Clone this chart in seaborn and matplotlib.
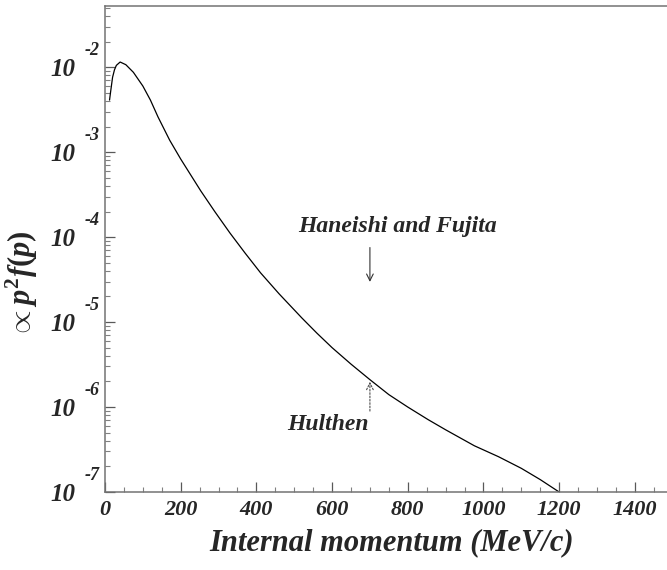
import numpy as np
import pandas as pd
import matplotlib
matplotlib.use("Agg")
import matplotlib.pyplot as plt
import matplotlib.transforms as mtransforms
from matplotlib.ticker import FixedLocator, LogLocator, NullFormatter
import seaborn as sns

# Deuteron momentum distribution (Hulthen), p^2 f(p) in arbitrary units
momentum = [12, 15, 20, 25, 30, 40, 55, 75, 100, 120, 140, 171, 200, 253,
            290, 330, 370, 411, 460, 520, 560, 600, 650, 700, 750, 800, 854,
            900, 976, 1040, 1100, 1150, 1200]
density = [4.1e-3, 5.2e-3, 7.6e-3, 9.3e-3, 1.05e-2, 1.15e-2, 1.07e-2, 8.7e-3,
           6.0e-3, 4.1e-3, 2.6e-3, 1.38e-3, 8.3e-4, 3.5e-4, 2.0e-4, 1.12e-4,
           6.5e-5, 3.8e-5, 2.15e-5, 1.12e-5, 7.4e-6, 5.0e-6, 3.2e-6, 2.1e-6,
           1.4e-6, 1.0e-6, 7.1e-7, 5.4e-7, 3.5e-7, 2.6e-7, 1.9e-7, 1.4e-7,
           1.0e-7]

x_ticks = [0, 200, 400, 600, 800, 1000, 1200, 1400]
y_decades = [-7, -6, -5, -4, -3, -2]

arrow_p = 700
haneishi_arrow = (10 ** -4.09, 10 ** -4.56)
hulthen_arrow = (10 ** -6.08, 10 ** -5.67)

sns.set_theme(style="white")
plt.rcParams["font.family"] = ["Liberation Serif", "DejaVu Serif"]
plt.rcParams["mathtext.fontset"] = "custom"
plt.rcParams["mathtext.it"] = "Liberation Serif:bold:italic"
plt.rcParams["mathtext.rm"] = "Liberation Serif:bold"
plt.rcParams["mathtext.bf"] = "Liberation Serif:bold"

fig = plt.figure(figsize=(6.67, 5.70), dpi=100)
ax = fig.add_axes([105 / 667, 1 - 492 / 570, 1 - 105 / 667, (492 - 6) / 570])

df = pd.DataFrame({"p": momentum, "f": density})
sns.lineplot(data=df, x="p", y="f", ax=ax, color="black", lw=0.9)

ax.set_yscale("log")
ax.set_xlim(0, 1485)
ax.set_ylim(1e-7, 10 ** -1.28)

# spines
for side in ["left", "bottom", "top"]:
    ax.spines[side].set_color("0.45")
    ax.spines[side].set_linewidth(1.1)
ax.spines["right"].set_visible(False)

# ticks
ax.xaxis.set_major_locator(FixedLocator(x_ticks))
ax.xaxis.set_minor_locator(FixedLocator(np.arange(50, 1500, 50)))
ax.yaxis.set_major_locator(FixedLocator([10.0 ** d for d in y_decades]))
ax.yaxis.set_minor_locator(LogLocator(base=10, subs=np.arange(2, 10)))
ax.yaxis.set_minor_formatter(NullFormatter())
ax.tick_params(axis="both", which="both", bottom=True, left=True,
               top=False, right=False)
ax.tick_params(axis="both", which="major", direction="in", length=7,
               width=0.9, color="0.35")
ax.tick_params(axis="both", which="minor", direction="in", length=3.5,
               width=0.8, color="0.5")
ax.tick_params(axis="x", which="major", pad=6)
ax.tick_params(axis="y", which="major", pad=21)

tick_font = dict(family="Liberation Serif", weight="bold", style="italic")
ax.set_xticklabels([str(v) for v in x_ticks], fontsize=16, **tick_font)
ax.set_yticklabels(["10"] * len(y_decades), fontsize=18, **tick_font)

# exponents of the decade labels
blend = mtransforms.blended_transform_factory(ax.transAxes, ax.transData)
for d in y_decades:
    ax.annotate(str(d), xy=(0, 10.0 ** d), xycoords=blend,
                xytext=(-15, 12), textcoords="offset points",
                ha="left", va="center", fontsize=13, **tick_font)

ax.set_xlabel("Internal momentum (MeV/c)", fontsize=22, **tick_font)
ax.xaxis.set_label_coords((392 - 105) / (667 - 105), (492 - 528) / 486)
ax.set_ylabel(r"$\propto p^2 f(p)$", fontsize=22)
ax.yaxis.set_label_coords(-(105 - 40) / (667 - 105), (492 - 284) / 486)

# annotations
ax.annotate("", xy=(arrow_p, haneishi_arrow[1]), xytext=(arrow_p, haneishi_arrow[0]),
            arrowprops=dict(arrowstyle="->", color="0.2", lw=0.8))
ax.text(772, 10 ** -3.88, "Haneishi and Fujita", ha="center", va="center",
        fontsize=17, **tick_font)
ax.annotate("", xy=(arrow_p, hulthen_arrow[1]), xytext=(arrow_p, hulthen_arrow[0]),
            arrowprops=dict(arrowstyle="->", color="0.3", lw=0.8,
                            linestyle=(0, (1.5, 1.5))))
ax.text(590, 10 ** -6.2, "Hulthen", ha="center", va="center",
        fontsize=17, **tick_font)

fig.savefig("out.png", dpi=100)
